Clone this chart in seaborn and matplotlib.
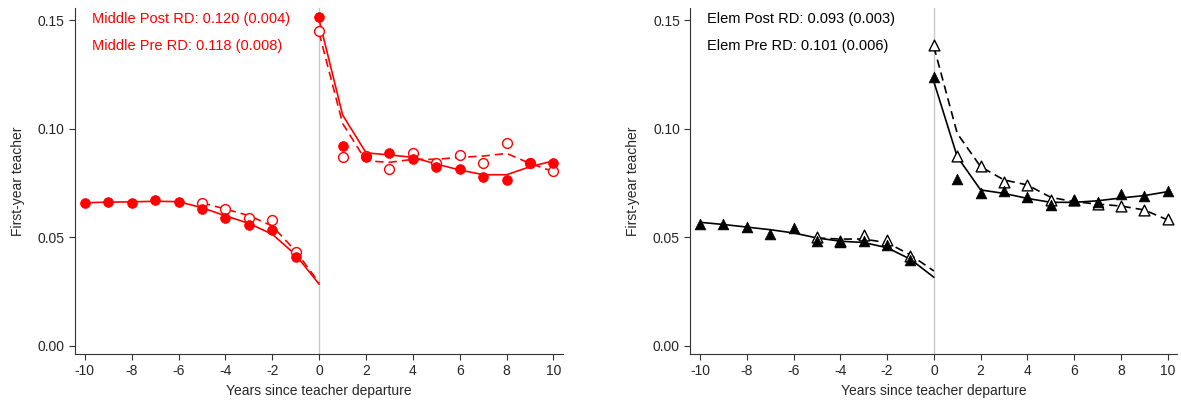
import numpy as np
import pandas as pd
import seaborn as sns
import matplotlib.pyplot as plt

# Годы относительно ухода учителя
pre_years = list(range(-10, 1))
post_years = list(range(0, 11))
pre_short_years = list(range(-5, 1))
dot_pre_years = list(range(-10, 0))
hollow_pre_years = list(range(-5, 0))

# Middle school: точки
mid_post_dots_pre = [0.0659, 0.0664, 0.0659, 0.0672, 0.0664, 0.0630, 0.0590, 0.0557, 0.0534, 0.0411]
mid_post_dots_post = [0.1512, 0.0921, 0.0871, 0.0888, 0.0860, 0.0825, 0.0813, 0.0779, 0.0762, 0.0840, 0.0842]
mid_pre_dots_pre = [0.0659, 0.0630, 0.0590, 0.0580, 0.0431]
mid_pre_dots_post = [0.1448, 0.0869, 0.0875, 0.0813, 0.0886, 0.0840, 0.0880, 0.0840, 0.0932, 0.0840, 0.0804]
# Middle school: сглаженные линии
mid_post_fit_pre = [0.0659, 0.0662, 0.0663, 0.0666, 0.0664, 0.0636, 0.0599, 0.0564, 0.0514, 0.0419, 0.0284]
mid_post_fit_post = [0.1500, 0.1063, 0.0889, 0.0879, 0.0868, 0.0837, 0.0810, 0.0788, 0.0788, 0.0825, 0.0852]
mid_pre_fit_pre = [0.0659, 0.0630, 0.0600, 0.0552, 0.0436, 0.0290]
mid_pre_fit_post = [0.1440, 0.1024, 0.0852, 0.0845, 0.0859, 0.0859, 0.0868, 0.0874, 0.0886, 0.0840, 0.0802]

# Elementary: точки
elem_post_dots_pre = [0.0560, 0.0563, 0.0546, 0.0514, 0.0543, 0.0485, 0.0480, 0.0483, 0.0463, 0.0394]
elem_post_dots_post = [0.1239, 0.0768, 0.0702, 0.0714, 0.0684, 0.0649, 0.0672, 0.0661, 0.0698, 0.0692, 0.0712]
elem_pre_dots_pre = [0.0503, 0.0485, 0.0511, 0.0486, 0.0414]
elem_pre_dots_post = [0.1385, 0.0874, 0.0828, 0.0753, 0.0741, 0.0672, 0.0670, 0.0653, 0.0645, 0.0626, 0.0586]
# Elementary: сглаженные линии
elem_post_fit_pre = [0.0569, 0.0559, 0.0547, 0.0535, 0.0520, 0.0497, 0.0482, 0.0476, 0.0452, 0.0399, 0.0316]
elem_post_fit_post = [0.1216, 0.0871, 0.0718, 0.0702, 0.0679, 0.0661, 0.0661, 0.0668, 0.0681, 0.0692, 0.0710]
elem_pre_fit_pre = [0.0497, 0.0492, 0.0492, 0.0475, 0.0419, 0.0345]
elem_pre_fit_post = [0.1377, 0.0978, 0.0825, 0.0764, 0.0741, 0.0684, 0.0664, 0.0653, 0.0644, 0.0626, 0.0580]

mid_labels = ["Middle Post RD: 0.120 (0.004)", "Middle Pre RD: 0.118 (0.008)"]
elem_labels = ["Elem Post RD: 0.093 (0.003)", "Elem Pre RD: 0.101 (0.006)"]

sns.set_style("ticks")
plt.rcParams['font.family'] = ['Liberation Sans', 'DejaVu Sans']
plt.rcParams['axes.unicode_minus'] = False

fig = plt.figure(figsize=(11.81, 4.05), dpi=100)
ax1 = fig.add_axes([0.0635, 0.126, 0.4135, 0.854])
ax2 = fig.add_axes([0.5845, 0.126, 0.4125, 0.854])


def draw_panel(ax, color, marker, msize, d_post_pre, d_post_post, d_pre_pre, d_pre_post,
               f_post_pre, f_post_post, f_pre_pre, f_pre_post, labels):
    ax.axvline(0, color="#c8c8c8", lw=1, zorder=0)
    # линии
    sns.lineplot(x=pre_years, y=f_post_pre, ax=ax, color=color, lw=1.2)
    sns.lineplot(x=post_years, y=f_post_post, ax=ax, color=color, lw=1.2)
    sns.lineplot(x=pre_short_years, y=f_pre_pre, ax=ax, color=color, lw=1.2, linestyle=(0, (5, 3)))
    sns.lineplot(x=post_years, y=f_pre_post, ax=ax, color=color, lw=1.2, linestyle=(0, (5, 3)))
    # точки
    sns.scatterplot(x=hollow_pre_years + post_years, y=d_pre_pre + d_pre_post, ax=ax, marker=marker,
                    s=msize, facecolor="white", edgecolor=color, linewidth=1.0, zorder=3)
    sns.scatterplot(x=dot_pre_years + post_years, y=d_post_pre + d_post_post, ax=ax, marker=marker,
                    s=msize, color=color, edgecolor=color, linewidth=0.5, zorder=4)
    ax.text(0.035, 0.99, labels[0], transform=ax.transAxes, color=color, fontsize=10.5, va="top")
    ax.text(0.035, 0.91, labels[1], transform=ax.transAxes, color=color, fontsize=10.5, va="top")
    ax.set_xlim(-10.42, 10.42)
    ax.set_ylim(-0.0037, 0.1555)
    ax.set_xticks(range(-10, 11, 2))
    ax.set_yticks([0.0, 0.05, 0.10, 0.15])
    ax.set_yticklabels(["0.00", "0.05", "0.10", "0.15"])
    ax.set_xlabel("Years since teacher departure", fontsize=10)
    ax.set_ylabel("First-year teacher", fontsize=10, labelpad=9)
    ax.tick_params(labelsize=10, color="#333333", length=4)
    for s in ["left", "bottom"]:
        ax.spines[s].set_color("#333333")
    sns.despine(ax=ax)


draw_panel(ax1, "#ff0000", "o", 50, mid_post_dots_pre, mid_post_dots_post, mid_pre_dots_pre, mid_pre_dots_post,
           mid_post_fit_pre, mid_post_fit_post, mid_pre_fit_pre, mid_pre_fit_post, mid_labels)
draw_panel(ax2, "black", "^", 60, elem_post_dots_pre, elem_post_dots_post, elem_pre_dots_pre, elem_pre_dots_post,
           elem_post_fit_pre, elem_post_fit_post, elem_pre_fit_pre, elem_pre_fit_post, elem_labels)

fig.savefig("out.png", dpi=100)
